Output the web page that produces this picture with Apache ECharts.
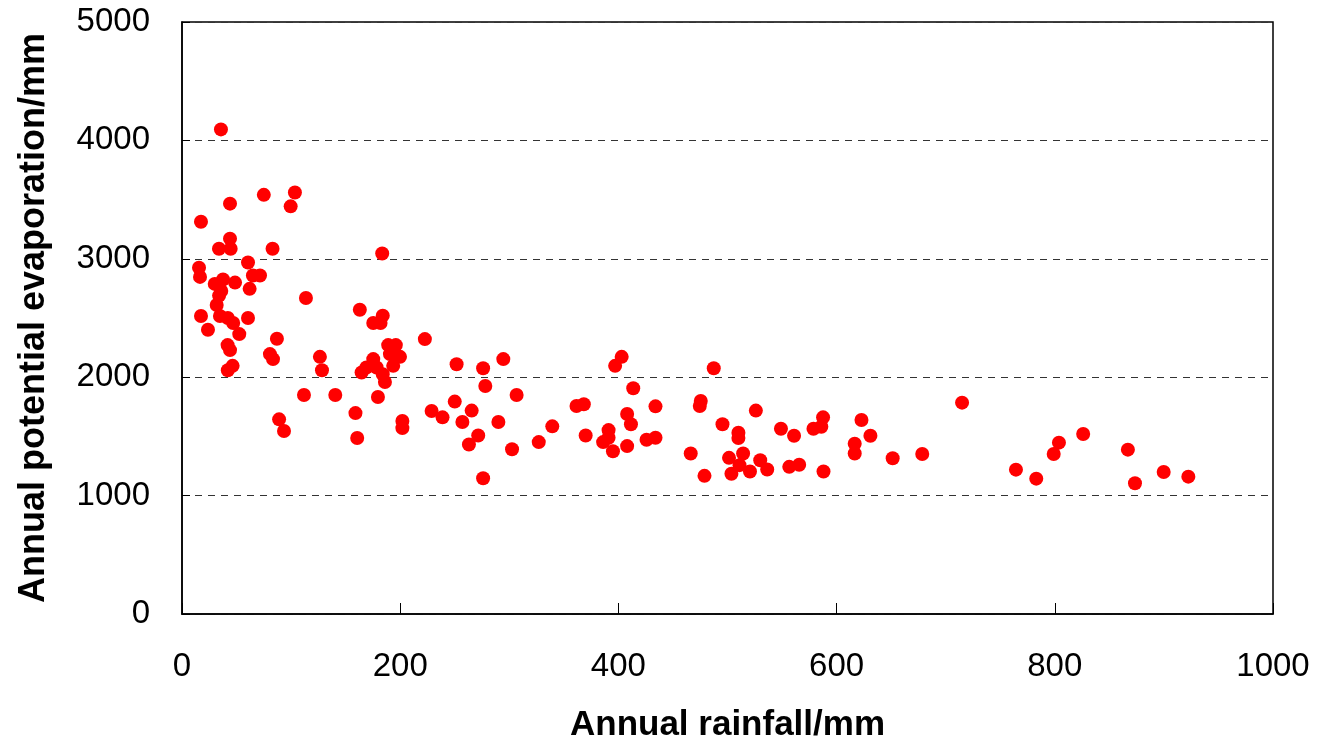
<!DOCTYPE html>
<html>
<head>
<meta charset="utf-8">
<title>Annual rainfall vs potential evaporation</title>
<script src="https://cdn.jsdelivr.net/npm/echarts@6/dist/echarts.min.js"></script>
<style>
  html, body { margin: 0; padding: 0; background: #fff; }
  #chart { width: 1321px; height: 742px; }
</style>
</head>
<body>
<div id="chart"></div>
<script>
// values
const rainfall = [
  35.7, 75, 103.5, 99.6, 44, 17.4, 44, 33.9, 44.6, 83,
  60.5, 15.6, 16.5, 65, 71.5, 30, 37.6, 48.6, 62, 36,
  34, 31.8, 113.6, 17.4, 34.8, 42, 46.9, 60.5, 23.8, 52.5,
  87, 41.8, 44, 80.6, 83.4, 126.4, 128.3, 46.4, 42, 111.8,
  163, 184, 175.3, 182, 222.6, 189, 196, 190.6, 199.8, 175.3,
  193.6, 169, 164.6, 178.4, 184, 186, 251.7, 140.5, 179.6, 228.8,
  238.8, 250, 159, 89, 93.5, 202, 202, 160.6, 183.5,
  276, 294.5, 278, 306.7, 265.5, 257, 290, 271.5, 263, 302.5,
  327, 339.4, 276, 361.6, 368.3, 370, 391, 391, 386, 395,
  408, 403, 397, 413.6, 408, 411.5, 434, 425.8, 434,
  487.4, 475.5, 474.6, 526, 495.4, 510, 510, 466.3, 501.4, 514.3,
  511, 478.9, 503.6, 520.6, 530, 536.4, 549, 561, 578.8, 586,
  587.6, 556.6, 565.7, 588, 622.8, 631, 616.6, 616.6,
  651.4, 678.5, 715, 764.4, 783, 799, 803.8, 826, 867, 873.5,
  899.8, 922.4
];
const evaporation = [
  4093, 3540, 3560, 3443, 3466, 3313, 3170, 3085, 3085, 3085,
  2969, 2924, 2847, 2859, 2859, 2788, 2825, 2799, 2746, 2729,
  2689, 2610, 2669, 2517, 2517, 2500, 2458, 2500, 2401, 2364,
  2325, 2271, 2229, 2195, 2153, 2172, 2059, 2096, 2059, 1850,
  2570, 2520, 2458, 2458, 2322, 2271, 2271, 2195, 2172, 2153,
  2096, 2082, 2040, 2082, 2025, 1960, 2110, 1850, 1833, 1715,
  1661, 1794, 1697, 1644, 1545, 1630, 1570, 1486, 3045,
  2076, 2153, 1926, 1850, 1718, 1621, 1621, 1508, 1432, 1392,
  1452, 1585, 1147, 1757, 1771, 1508, 1553, 1489, 1452, 1375,
  1418, 2172, 2096, 1907, 1689, 1602, 1754, 1472, 1489,
  2076, 1799, 1757, 1718, 1602, 1531, 1486, 1356, 1319, 1356,
  1257, 1167, 1184, 1203, 1299, 1220, 1565, 1506, 1565, 1582,
  1661, 1243, 1260, 1203, 1638, 1506, 1438, 1356,
  1315, 1351, 1785, 1219, 1143, 1351, 1447, 1520, 1388, 1104,
  1199, 1160
];
const xTicks = [0, 200, 400, 600, 800, 1000];
const yTicks = [0, 1000, 2000, 3000, 4000, 5000];

const points = rainfall.map((r, i) => [r, evaporation[i]]);

const chart = echarts.init(document.getElementById("chart"));
const font = "'Liberation Sans', Arial, sans-serif";

chart.setOption({
  animation: false,
  backgroundColor: "#fff",
  grid: {
    left: 182,
    right: 48,
    top: 22,
    bottom: 128,
    outerBoundsMode: "none",
    show: true,
    borderColor: "#000",
    borderWidth: 1.5,
  },
  xAxis: {
    type: "value",
    min: xTicks[0],
    max: xTicks[xTicks.length - 1],
    interval: xTicks[1] - xTicks[0],
    name: "Annual rainfall/mm",
    nameLocation: "middle",
    nameGap: 94,
    nameTextStyle: { fontFamily: font, fontSize: 35, fontWeight: "bold", color: "#000" },
    axisLine: { lineStyle: { color: "#000", width: 1.5 } },
    axisTick: { inside: true, length: 11, lineStyle: { color: "#000" } },
    axisLabel: { fontFamily: font, fontSize: 33, color: "#000", margin: 36, formatter: (v) => String(v) },
    splitLine: { show: false },
  },
  yAxis: {
    type: "value",
    min: yTicks[0],
    max: yTicks[yTicks.length - 1],
    interval: yTicks[1] - yTicks[0],
    name: "Annual potential evaporation/mm",
    nameLocation: "middle",
    nameGap: 130,
    nameTextStyle: { fontFamily: font, fontSize: 36, fontWeight: "bold", color: "#000" },
    axisLine: { lineStyle: { color: "#000", width: 1.5 } },
    axisTick: { inside: true, length: 8, lineStyle: { color: "#000" } },
    axisLabel: { fontFamily: font, fontSize: 33, color: "#000", margin: 32, formatter: (v) => String(v) },
    splitLine: { show: true, lineStyle: { color: "#333", width: 1, type: [7, 6] } },
  },
  series: [
    {
      type: "scatter",
      data: points,
      symbol: "circle",
      symbolSize: 14,
      itemStyle: { color: "#ff0000", opacity: 1 },
    },
  ],
});
</script>
</body>
</html>
